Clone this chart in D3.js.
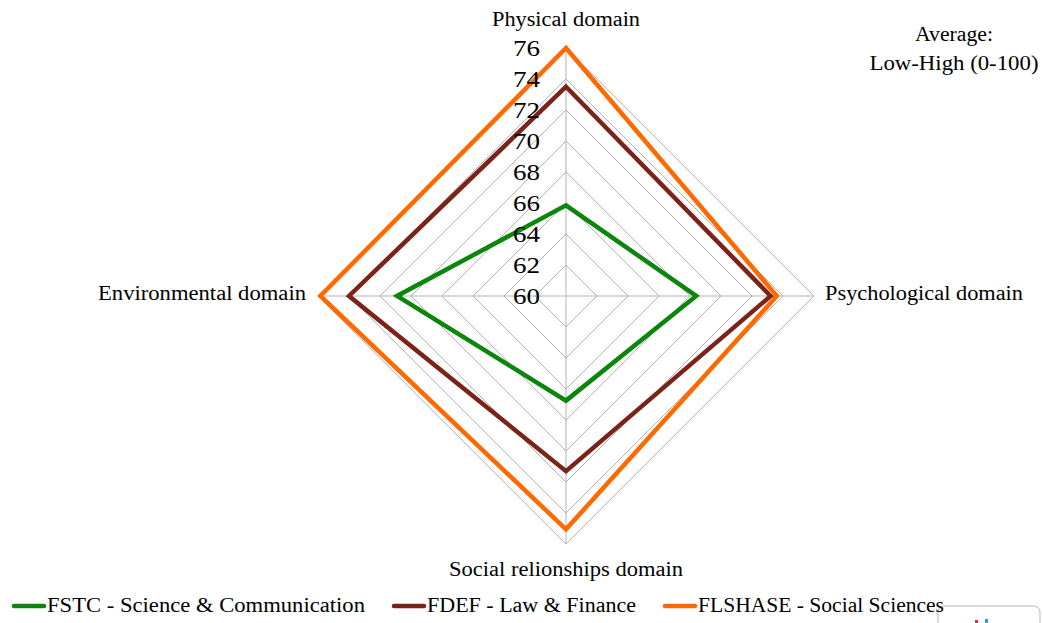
<!DOCTYPE html>
<html>
<head>
<meta charset="utf-8">
<script src="https://cdn.jsdelivr.net/npm/d3@7"></script>
<style>
  html, body { margin: 0; padding: 0; background: #fff; }
  svg { display: block; }
  text { font-family: "Liberation Serif", "Times New Roman", serif; fill: #000; }
</style>
</head>
<body>
<svg id="chart" width="1042" height="623"></svg>
<script>
// ---- data ----
const axesLabels = ["Physical domain", "Psychological domain", "Social relionships domain", "Environmental domain"];
const seriesNames = ["FSTC - Science & Communication", "FDEF - Law & Finance", "FLSHASE - Social Sciences"];
const fstcValues = [65.85, 68.4, 66.75, 70.9];
const fdefValues = [73.5, 73.2, 71.3, 74.0];
const flshaseValues = [76.0, 73.6, 75.05, 75.85];
const tickValues = [60, 62, 64, 66, 68, 70, 72, 74, 76];
const noteLines = ["Average:", "Low-High (0-100)"];

const seriesColors = ["#0a860a", "#7b2318", "#ff6a00"];
const seriesData = [fstcValues, fdefValues, flshaseValues];

// ---- layout ----
const svg = d3.select("#chart");
const cx = 566, cy = 296;
const r = d3.scaleLinear().domain([60, 76]).range([0, 248]);
const angle = d3.scalePoint().domain(d3.range(axesLabels.length)).range([0, 2 * Math.PI * (axesLabels.length - 1) / axesLabels.length]);
const pt = (i, v) => {
  const a = angle(i) - Math.PI / 2;
  return [cx + r(v) * Math.cos(a), cy + r(v) * Math.sin(a)];
};

const g = svg.append("g");

// grid rings
const ringLine = d3.line();
tickValues.filter(t => t > 60).forEach(t => {
  const pts = axesLabels.map((_, i) => pt(i, t));
  g.append("path")
    .attr("d", ringLine(pts) + "Z")
    .attr("fill", "none")
    .attr("stroke", "#b3b3b3")
    .attr("stroke-width", 1);
});
// spokes
axesLabels.forEach((_, i) => {
  const [x, y] = pt(i, 76);
  g.append("line")
    .attr("x1", cx).attr("y1", cy).attr("x2", x).attr("y2", y)
    .attr("stroke", "#b3b3b3").attr("stroke-width", 1);
});

// series
seriesData.forEach((vals, s) => {
  const pts = vals.map((v, i) => pt(i, v));
  g.append("path")
    .attr("d", ringLine(pts) + "Z")
    .attr("fill", "none")
    .attr("stroke", seriesColors[s])
    .attr("stroke-width", 4.5)
    .attr("stroke-linejoin", "miter");
});

// tick labels
tickValues.forEach(t => {
  g.append("text")
    .attr("x", cx - 26)
    .attr("y", cy - r(t) + 8)
    .attr("text-anchor", "end")
    .attr("font-size", 24)
    .attr("textLength", 27)
    .attr("lengthAdjust", "spacingAndGlyphs")
    .text(t);
});

// axis labels
const labelSpecs = [
  { x: cx, y: cy - r(76) - 22, anchor: "middle", len: 148 },
  { x: cx + r(76) + 11, y: cy + 4, anchor: "start", len: 198 },
  { x: cx, y: cy + r(76) + 32, anchor: "middle", len: 234 },
  { x: cx - r(76) - 12, y: cy + 4, anchor: "end", len: 208 }
];
axesLabels.forEach((lab, i) => {
  const s = labelSpecs[i];
  g.append("text")
    .attr("x", s.x).attr("y", s.y)
    .attr("text-anchor", s.anchor)
    .attr("font-size", 20)
    .attr("textLength", s.len)
    .attr("lengthAdjust", "spacingAndGlyphs")
    .text(lab);
});

// note (top-right)
g.append("text").attr("x", 954).attr("y", 41).attr("text-anchor", "middle")
  .attr("font-size", 20).attr("textLength", 78).attr("lengthAdjust", "spacingAndGlyphs").text(noteLines[0]);
g.append("text").attr("x", 954).attr("y", 70).attr("text-anchor", "middle")
  .attr("font-size", 20).attr("textLength", 169).attr("lengthAdjust", "spacingAndGlyphs").text(noteLines[1]);

// bottom-right overlay box (artifact in reference)
g.append("rect").attr("x", 938).attr("y", 606).attr("width", 102).attr("height", 40)
  .attr("rx", 6).attr("fill", "#fff").attr("stroke", "#b8b8b8").attr("stroke-width", 1);
g.append("rect").attr("x", 975).attr("y", 620).attr("width", 3).attr("height", 3).attr("fill", "#e03030");
g.append("rect").attr("x", 985).attr("y", 619).attr("width", 3).attr("height", 4).attr("fill", "#2aa0e0");

// legend
const legendX = [12, 392, 663];
const legendLen = [318, 209, 246];
seriesNames.forEach((name, s) => {
  const lx = legendX[s];
  g.append("line")
    .attr("x1", lx + 2).attr("x2", lx + 32)
    .attr("y1", 606).attr("y2", 606)
    .attr("stroke", seriesColors[s]).attr("stroke-width", 4.5)
    .attr("stroke-linecap", "round");
  g.append("text")
    .attr("x", lx + 35).attr("y", 612)
    .attr("font-size", 20)
    .attr("textLength", legendLen[s])
    .attr("lengthAdjust", "spacingAndGlyphs")
    .text(name);
});
</script>
</body>
</html>
